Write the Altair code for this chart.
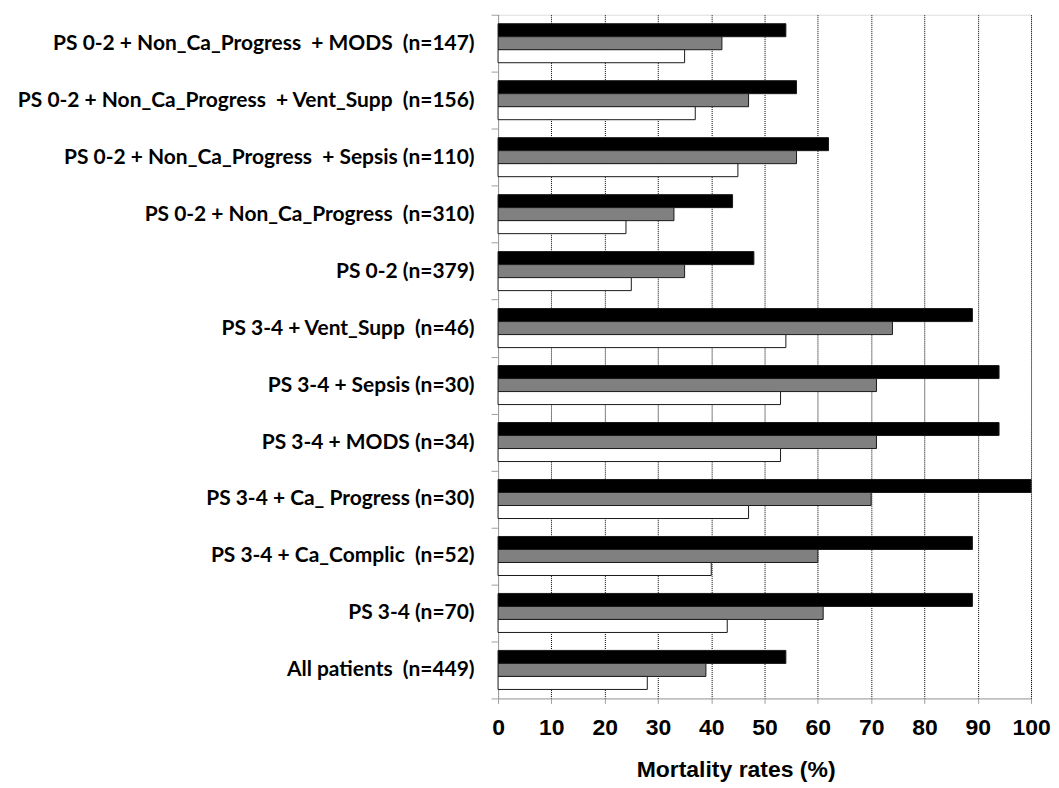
import altair as alt
import pandas as pd

NB = "\u00a0"

categories = [
    f"PS 0-2 + Non_Ca_Progress {NB}+ MODS {NB}(n=147)",
    f"PS 0-2 + Non_Ca_Progress {NB}+ Vent_Supp {NB}(n=156)",
    f"PS 0-2 + Non_Ca_Progress {NB}+ Sepsis (n=110)",
    f"PS 0-2 + Non_Ca_Progress {NB}(n=310)",
    "PS 0-2 (n=379)",
    f"PS 3-4 + Vent_Supp {NB}(n=46)",
    "PS 3-4 + Sepsis (n=30)",
    "PS 3-4 + MODS (n=34)",
    "PS 3-4 + Ca_ Progress (n=30)",
    f"PS 3-4 + Ca_Complic {NB}(n=52)",
    "PS 3-4 (n=70)",
    f"All patients {NB}(n=449)",
]

series_names = ["Series 1", "Series 2", "Series 3"]
series_colors = ["#000000", "#808080", "#ffffff"]

series1 = [54, 56, 62, 44, 48, 89, 94, 94, 100, 89, 89, 54]   # black
series2 = [42, 47, 56, 33, 35, 74, 71, 71, 70, 60, 61, 39]    # gray
series3 = [35, 37, 45, 24, 25, 54, 53, 53, 47, 40, 43, 28]    # white

x_ticks = list(range(0, 101, 10))

rows = []
for name, vals in zip(series_names, [series1, series2, series3]):
    for c, v in zip(categories, vals):
        rows.append({"category": c, "series": name, "value": v})
df = pd.DataFrame(rows)

chart = alt.Chart(df).mark_bar(stroke="#1a1a1a", strokeWidth=1).encode(
    y=alt.Y(
        "category:N",
        sort=categories,
        scale=alt.Scale(paddingInner=0, paddingOuter=0),
        axis=alt.Axis(
            title=None,
            labelFont="Lato",
            labelFontWeight="bold",
            labelFontSize=21,
            labelColor="#000000",
            labelLimit=700,
            labelPadding=17,
            tickBand="extent",
            tickSize=7,
            tickColor="#a0a0a0",
            domainColor="#a0a0a0",
            minExtent=486,
            maxExtent=486,
            grid=False,
        ),
    ),
    yOffset=alt.YOffset(
        "series:N",
        sort=series_names,
        scale=alt.Scale(domain=series_names, paddingInner=0, paddingOuter=0.69),
    ),
    x=alt.X(
        "value:Q",
        scale=alt.Scale(domain=[0, 100], nice=False),
        axis=alt.Axis(
            title="Mortality rates (%)",
            values=x_ticks,
            labelFont="Liberation Sans",
            labelFontWeight="bold",
            labelFontSize=23,
            labelColor="#000000",
            labelPadding=13,
            labelOverlap=False,
            labelFlush=False,
            tickSize=5,
            tickColor="#a0a0a0",
            domainColor="#a0a0a0",
            titleFont="Liberation Sans",
            titleFontWeight="bold",
            titleFontSize=23,
            titleColor="#000000",
            titlePadding=19,
            titleX=238,
            grid=True,
            gridColor="#000000",
            gridDash=[1, 1],
            gridWidth=1,
        ),
    ),
    fill=alt.Fill(
        "series:N",
        scale=alt.Scale(domain=series_names, range=series_colors),
        legend=None,
    ),
).properties(
    width=534,
    height=685,
    padding={"left": 5, "top": -5, "right": 0, "bottom": 0},
).configure_view(stroke=None).configure(background="#ffffff")

chart.save("out.html", embed_options={"renderer": "svg", "actions": False})
